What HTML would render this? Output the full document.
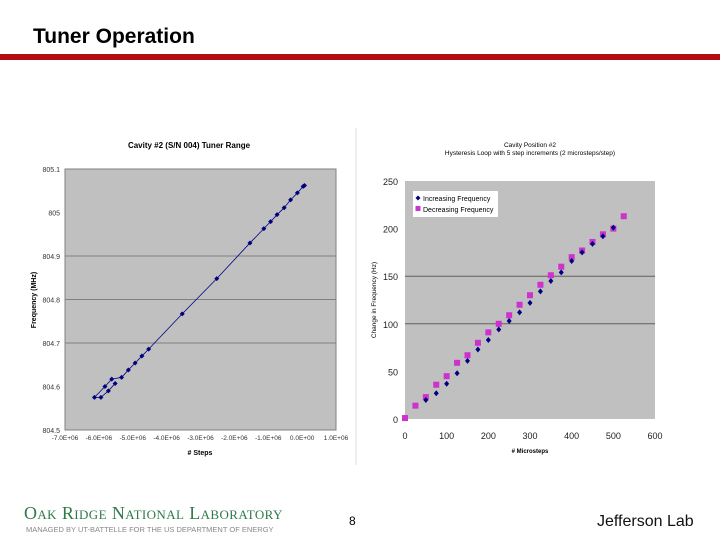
<!DOCTYPE html>
<html><head><meta charset="utf-8"><style>
body{margin:0;width:720px;height:540px;background:#fff;overflow:hidden;position:relative;font-family:"Liberation Sans",Arial,sans-serif}
.abs{position:absolute}
</style></head><body>
<div class="abs" style="left:33px;top:25px;font-size:21px;font-weight:bold;color:#000">Tuner Operation</div>
<div class="abs" style="left:0;top:54px;width:720px;height:6px;background:#b30c12"></div>

<svg class="abs" style="left:0;top:0" width="720" height="540">
<g id="left"></g>
<g id="right"></g>
</svg>

<div class="abs" style="left:24px;top:503px;font-family:'Liberation Serif',serif;font-size:18px;color:#2f7a4a;font-variant:small-caps;letter-spacing:0.4px;white-space:nowrap">Oak Ridge National Laboratory</div>
<div class="abs" style="left:26px;top:525px;font-size:7.5px;color:#888">MANAGED BY UT-BATTELLE FOR THE US DEPARTMENT OF ENERGY</div>
<div class="abs" style="left:349px;top:514px;font-size:12px">8</div>
<div class="abs" style="left:597px;top:513px;font-size:16px;color:#111">Jefferson Lab</div>

<script>
// Left chart data (x in millions of steps, y in MHz)
const leftX=[0.07,0.03,-0.14,-0.34,-0.53,-0.74,-0.93,-1.13,-1.54,-2.52,-3.54,-4.53,-4.73,-4.93,-5.13,-5.33,-5.62,-5.82,-6.13,-5.94,-5.72,-5.52];
const leftY=[805.062,805.060,805.045,805.029,805.011,804.995,804.979,804.963,804.930,804.848,804.767,804.686,804.670,804.654,804.638,804.621,804.617,804.600,804.575,804.575,804.590,804.607];
const leftXTicks=["-7.0E+06","-6.0E+06","-5.0E+06","-4.0E+06","-3.0E+06","-2.0E+06","-1.0E+06","0.0E+00","1.0E+06"];
const leftYTicks=["804.5","804.6","804.7","804.8","804.9","805","805.1"];
// Right chart data
const incX=[50,75,100,125,150,175,200,225,250,275,300,325,350,375,400,425,450,475,500];
const incY=[20,27,37,48,61,73,83,94,103,112,122,134,145,154,166,175,184,192,201];
const decX=[0,25,50,75,100,125,150,175,200,225,250,275,300,325,350,375,400,425,450,475,500,525];
const decY=[1,14,23,36,45,59,67,80,91,100,109,120,130,141,151,160,170,177,186,194,200,213];
const rightXTicks=["0","100","200","300","400","500","600"];
const rightYTicks=["0","50","100","150","200","250"];

const NS="http://www.w3.org/2000/svg";
function mk(p,t,a,txt){const e=document.createElementNS(NS,t);for(const k in a)e.setAttribute(k,a[k]);if(txt!=null)e.textContent=txt;p.appendChild(e);return e;}

// LEFT
const L=document.getElementById('left');
const lx=v=>65+(v+7)/8*271, ly=v=>430-(v-804.5)/0.6*261;
let e=mk(L,'rect',{x:65,y:169,width:271,height:261,fill:'#c0c0c0',stroke:'#808080'});

mk(L,'line',{x1:356,y1:128,x2:356,y2:465,stroke:'#ddd'});
leftYTicks.forEach((t,i)=>{const y=ly(804.5+i*0.1);
 if(i>=2&&i<=4){e=mk(L,'line',{x1:65,y1:y,x2:336,y2:y,stroke:'#808080','stroke-width':1});}
 e=mk(L,'text',{x:60,y:y+3,'font-size':7,'text-anchor':'end',fill:'#333'},t);});
leftXTicks.forEach((t,i)=>{const x=lx(-7+i);
 e=mk(L,'text',{x:x,y:440,'font-size':6.5,'text-anchor':'middle',fill:'#333'},t);});
e=mk(L,'text',{x:189,y:148,'font-size':8,'font-weight':'bold','text-anchor':'middle'},'Cavity #2 (S/N 004) Tuner Range');
e=mk(L,'text',{x:200,y:455,'font-size':7,'font-weight':'bold','text-anchor':'middle'},'# Steps');
e=mk(L,'text',{x:36,y:300,'font-size':7,'font-weight':'bold','text-anchor':'middle',transform:'rotate(-90 36 300)'},'Frequency (MHz)');
e=mk(L,'polyline',{points:leftX.map((v,i)=>lx(v)+','+ly(leftY[i])).join(' '),fill:'none',stroke:'#000080','stroke-width':0.8});

leftX.forEach((v,i)=>{const x=lx(v),y=ly(leftY[i]);
 e=mk(L,'polygon',{points:`${x},${y-2.5} ${x+2.5},${y} ${x},${y+2.5} ${x-2.5},${y}`,fill:'#000080'});
 });

// RIGHT
const R=document.getElementById('right');
const rx=v=>405+v/600*250, ry=v=>419-v/250*238;
e=mk(R,'rect',{x:405,y:181,width:250,height:238,fill:'#c0c0c0'});
[100,150].forEach(v=>{e=mk(R,'line',{x1:405,y1:ry(v),x2:655,y2:ry(v),stroke:'#606060'});});
rightYTicks.forEach((t,i)=>{e=mk(R,'text',{x:398,y:ry(i*50)+4,'font-size':9,'text-anchor':'end',fill:'#222'},t);});
rightXTicks.forEach((t,i)=>{e=mk(R,'text',{x:rx(i*100),y:439,'font-size':9,'text-anchor':'middle',fill:'#222'},t);});
e=mk(R,'text',{x:530,y:147,'font-size':6.5,'text-anchor':'middle'},'Cavity Position #2');
e=mk(R,'text',{x:530,y:155,'font-size':6.5,'text-anchor':'middle'},'Hysteresis Loop with 5 step increments (2 microsteps/step)');
e=mk(R,'text',{x:530,y:453,'font-size':6,'font-weight':'bold','text-anchor':'middle'},'# Microsteps');
e=mk(R,'text',{x:376,y:300,'font-size':6.5,'text-anchor':'middle',transform:'rotate(-90 376 300)'},'Change in Frequency (Hz)');
decX.forEach((v,i)=>{const x=rx(v),y=ry(decY[i]);e=mk(R,'rect',{x:x-3,y:y-3,width:6,height:6,fill:'#cc33cc'});});
incX.forEach((v,i)=>{const x=rx(v),y=ry(incY[i]);e=mk(R,'polygon',{points:`${x},${y-3} ${x+2.5},${y} ${x},${y+3} ${x-2.5},${y}`,fill:'#000080'});});
// legend
const lg=mk(R,'g',{});
mk(lg,'rect',{x:413,y:191,width:85,height:26,fill:'#fff'});
mk(lg,'polygon',{points:'418,195.5 420.5,198 418,200.5 415.5,198',fill:'#000080'});
e=mk(lg,'text',{x:423,y:201,'font-size':7},'Increasing Frequency');
mk(lg,'rect',{x:415.5,y:206,width:5,height:5,fill:'#cc33cc'});
e=mk(lg,'text',{x:423,y:212,'font-size':7},'Decreasing Frequency');
</script>
</body></html>
